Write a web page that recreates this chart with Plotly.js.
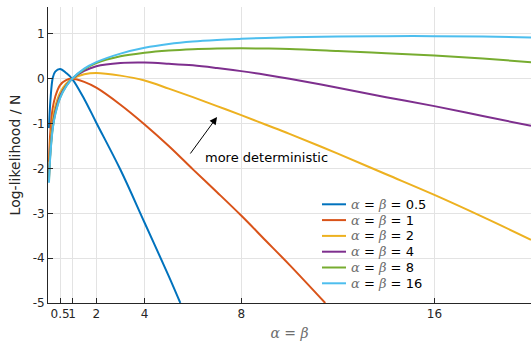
<!DOCTYPE html>
<html>
<head>
<meta charset="utf-8">
<script src="https://cdn.plot.ly/plotly-3.0.1.min.js"></script>
<style>html,body{margin:0;padding:0;background:#fff;}#chart{width:531px;height:341px;}</style>
</head>
<body>
<div id="chart"></div>
<script>
// true alpha = beta of each data set
var trueAlphas = [0.5, 1, 2, 4, 8, 16];
var colors = ['#0072BD', '#D95319', '#EDB120', '#7E2F8E', '#77AC30', '#4DBEEE'];

// model alpha = beta (x values) and log-likelihood / N (y values)
var xBlue = [0.04, 0.1, 0.2, 0.3, 0.5, 0.75, 1, 1.5, 2, 3, 4, 5, 5.48];
var yBlue = [-1.1, -0.48, 0.03, 0.16, 0.22, 0.13, 0, -0.45, -0.98, -2.03, -3.21, -4.4, -5.0];

var xRed = [0.04, 0.1, 0.2, 0.3, 0.5, 0.75, 1, 1.5, 2, 3, 4, 5, 6, 7, 8, 9, 10, 11.48];
var yRed = [-1.85, -1.15, -0.64, -0.4, -0.14, -0.03, 0, -0.07, -0.2, -0.58, -1.02, -1.5, -2.02, -2.53, -3.05, -3.6, -4.15, -5.0];

var xCommon = [0.04, 0.1, 0.2, 0.3, 0.5, 0.75, 1, 1.5, 2, 3, 4, 5, 6, 7, 8, 9, 10, 12, 14, 16, 18, 20];
var yYellow = [-2.1, -1.45, -0.9, -0.62, -0.31, -0.11, 0, 0.1, 0.13, 0.07, -0.04, -0.22, -0.41, -0.61, -0.81, -1.02, -1.23, -1.67, -2.13, -2.59, -3.08, -3.59];
var yPurple = [-2.22, -1.6, -1.03, -0.73, -0.38, -0.15, 0, 0.175, 0.28, 0.35, 0.36, 0.335, 0.3, 0.24, 0.17, 0.09, 0.0, -0.2, -0.41, -0.61, -0.83, -1.05];
var yGreen = [-2.28, -1.65, -1.08, -0.78, -0.42, -0.165, 0, 0.21, 0.35, 0.5, 0.58, 0.63, 0.66, 0.675, 0.68, 0.675, 0.665, 0.62, 0.57, 0.52, 0.45, 0.37];
var yLightBlue = [-2.32, -1.68, -1.1, -0.8, -0.43, -0.173, 0, 0.226, 0.37, 0.56, 0.69, 0.775, 0.83, 0.865, 0.89, 0.91, 0.925, 0.945, 0.95, 0.95, 0.94, 0.92];

var xTickVals = [0.5, 1, 2, 4, 8, 16];
var xTickText = ['0.5', '1', '2', '4', '8', '16'];
var yTickVals = [-5, -4, -3, -2, -1, 0, 1];
var yTickText = ['-5', '-4', '-3', '-2', '-1', '0', '1'];

var seriesX = [xBlue, xRed, xCommon, xCommon, xCommon, xCommon];
var seriesY = [yBlue, yRed, yYellow, yPurple, yGreen, yLightBlue];

function greek(g) {
  return '<span style="font-family:\'DejaVu Serif\';font-style:italic;color:#6e6e6e">' + g + '</span>';
}
function label(a) {
  return greek('α') + ' = ' + greek('β') + ' = ' + a;
}

var traces = trueAlphas.map(function (a, i) {
  return {
    x: seriesX[i], y: seriesY[i],
    type: 'scatter', mode: 'lines',
    line: {color: colors[i], width: 2, shape: 'spline', smoothing: 1},
    name: label(a), showlegend: false
  };
});

// plot box in pixels (for placing the hand-made legend)
var W = 531, H = 341, mL = 48, mR = 0, mT = 7, mB = 38;
var pw = W - mL - mR, ph = H - mT - mB;
function px2paperX(px) { return (px - mL) / pw; }
function py2paperY(py) { return (H - mB - py) / ph; }

var legLeft = 322, legSample = 24, legTextGap = 3, legTop = 204.3, legStep = 15.8;

var shapes = [];
var annotations = [
  {x: 7.0, y: -0.853, ax: 5.85, ay: -1.70, xref: 'x', yref: 'y', axref: 'x', ayref: 'y',
   showarrow: true, arrowhead: 2, arrowsize: 1.5, arrowwidth: 1, arrowcolor: '#000', text: ''},
  {x: 6.43, y: -1.75, xref: 'x', yref: 'y', xanchor: 'left', yanchor: 'middle', showarrow: false,
   text: 'more deterministic', font: {family: 'DejaVu Sans', size: 13, color: '#000'}}
];
trueAlphas.forEach(function (a, i) {
  var yy = py2paperY(legTop + i * legStep);
  shapes.push({type: 'line', xref: 'paper', yref: 'paper',
    x0: px2paperX(legLeft), x1: px2paperX(legLeft + legSample), y0: yy, y1: yy,
    line: {color: colors[i], width: 2}});
  annotations.push({xref: 'paper', yref: 'paper', x: px2paperX(legLeft + legSample + legTextGap), y: yy,
    xanchor: 'left', yanchor: 'middle', showarrow: false, text: label(a),
    font: {family: 'DejaVu Sans', size: 13, color: '#000'}});
});

var font = {family: 'DejaVu Sans', size: 12, color: '#262626'};

var layout = {
  width: W, height: H,
  margin: {l: mL, r: mR, t: mT, b: mB},
  paper_bgcolor: '#fff', plot_bgcolor: '#fff',
  font: font,
  showlegend: false,
  xaxis: {
    range: [0, 20], tickmode: 'array', tickvals: xTickVals, ticktext: xTickText, tickangle: 0,
    ticks: 'inside', ticklen: 5, tickcolor: '#262626', tickwidth: 1,
    showline: true, linecolor: '#262626', linewidth: 1,
    showgrid: true, gridcolor: '#e3e3e3', gridwidth: 1, zeroline: false,
    tickfont: font,
    title: {text: greek('α') + ' = ' + greek('β'), font: {family: 'DejaVu Sans', size: 14, color: '#6e6e6e'}, standoff: 8}
  },
  yaxis: {
    range: [-5, 1.6], tickmode: 'array', tickvals: yTickVals, ticktext: yTickText, tickangle: 0,
    ticks: 'inside', ticklen: 5, tickcolor: '#262626', tickwidth: 1,
    showline: true, linecolor: '#262626', linewidth: 1,
    showgrid: true, gridcolor: '#e3e3e3', gridwidth: 1, zeroline: false,
    tickfont: font,
    title: {text: 'Log-likelihood / N', font: {family: 'DejaVu Sans', size: 14, color: '#262626'}, standoff: 8}
  },
  shapes: shapes,
  annotations: annotations
};

Plotly.newPlot('chart', traces, layout, {displayModeBar: false, staticPlot: true});
</script>
</body>
</html>
